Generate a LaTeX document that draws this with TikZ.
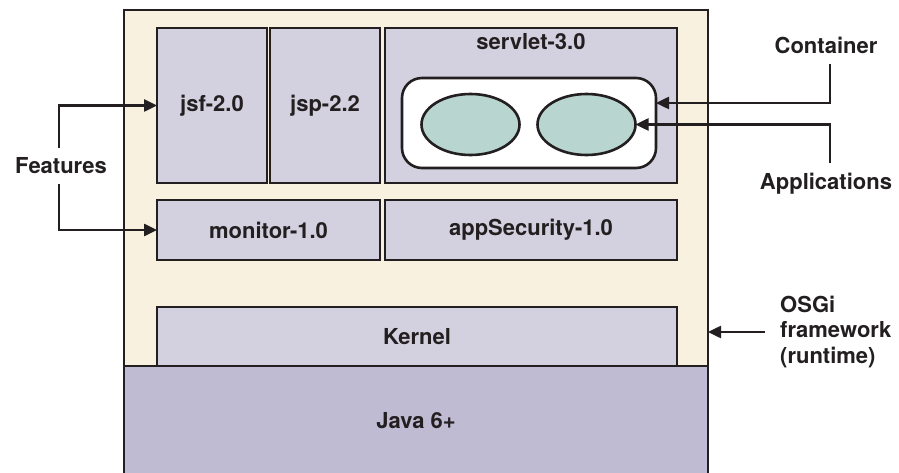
\documentclass[tikz,border=0pt]{standalone}
\usepackage{fontspec}
\setmainfont{TeX Gyre Heros}
\usetikzlibrary{shapes.geometric,arrows.meta}
\definecolor{cream}{HTML}{F8F1E0}
\definecolor{lav}{HTML}{D3D1DF}
\definecolor{javac}{HTML}{BFBBD3}
\definecolor{appc}{HTML}{B9D5D0}
\definecolor{ink}{HTML}{231F20}
\tikzset{
	box/.style={draw=ink,line width=2.6pt,fill=lav,inner sep=0pt,outer sep=0pt,text=ink,font=\fontsize{22}{26}\selectfont\bfseries},
	app/.style={ellipse,draw=ink,line width=2.6pt,fill=appc,minimum width=98pt,minimum height=61pt,inner sep=0pt,outer sep=0pt},
	lbl/.style={text=ink,font=\fontsize{22}{25.5}\selectfont\bfseries,inner sep=10pt},
	arr/.style={draw=ink,line width=2.5pt,-{Stealth[length=13pt,width=12pt,inset=0pt]}},
}
\begin{document}
\begin{tikzpicture}[x=1pt,y=-1pt]
	\useasboundingbox(0,0)rectangle(899,473);
	% runtime frame and layers
	\node[box,fill=cream,line width=2.9pt,minimum width=584pt,minimum height=410pt](frame)at(416,215){};
	\node[box,fill=javac,line width=2.9pt,minimum width=584pt,minimum height=110pt](java)at(416,421){Java 6+};
	\node[box,minimum width=520pt,minimum height=59pt](kernel)at(417,336.5){Kernel};
	% features
	\node[box,minimum width=110pt,minimum height=155pt](jsf)at(212,105.5){jsf-2.0};
	\node[box,minimum width=110pt,minimum height=155pt](jsp)at(325,105.5){jsp-2.2};
	\node[box,minimum width=292pt,minimum height=155pt](servlet)at(531,105.5){};
	\node[text=ink,font=\fontsize{22}{26}\selectfont\bfseries](servletlbl)at(531,42){servlet-3.0};
	\node[box,minimum width=223pt,minimum height=60pt](monitor)at(268.5,230){monitor-1.0};
	\node[box,minimum width=292pt,minimum height=60pt](appsec)at(531,230){appSecurity-1.0};
	% container with applications
	\node[box,fill=white,rounded corners=20pt,minimum width=254pt,minimum height=90pt](cnt)at(529,123){};
	\node[app](app1)at(470.5,124.5){};
	\node[app](app2)at(586.5,124.5){};
	% side labels
	\node[lbl](feat)at(61,166){Features};
	\node[lbl](cont)at(826,45){Container};
	\node[lbl](apps)at(826,184){Applications};
	\node[lbl,anchor=west,align=left,inner xsep=15pt,inner ysep=0pt](osgi)at(765,332){OSGi\\framework\\(runtime)};
	\draw[arr]([xshift=-2pt]feat.north)|-(jsf.west);
	\draw[arr]([xshift=-2pt]feat.south)|-(monitor.west);
	\draw[arr]([xshift=4pt]cont.south)|-([yshift=20pt]cnt.east);
	\draw[arr]([xshift=4pt]apps.north)|-(app2.east);
	\draw[arr](osgi.west)--(osgi.west-|frame.east);
\end{tikzpicture}
\end{document}
